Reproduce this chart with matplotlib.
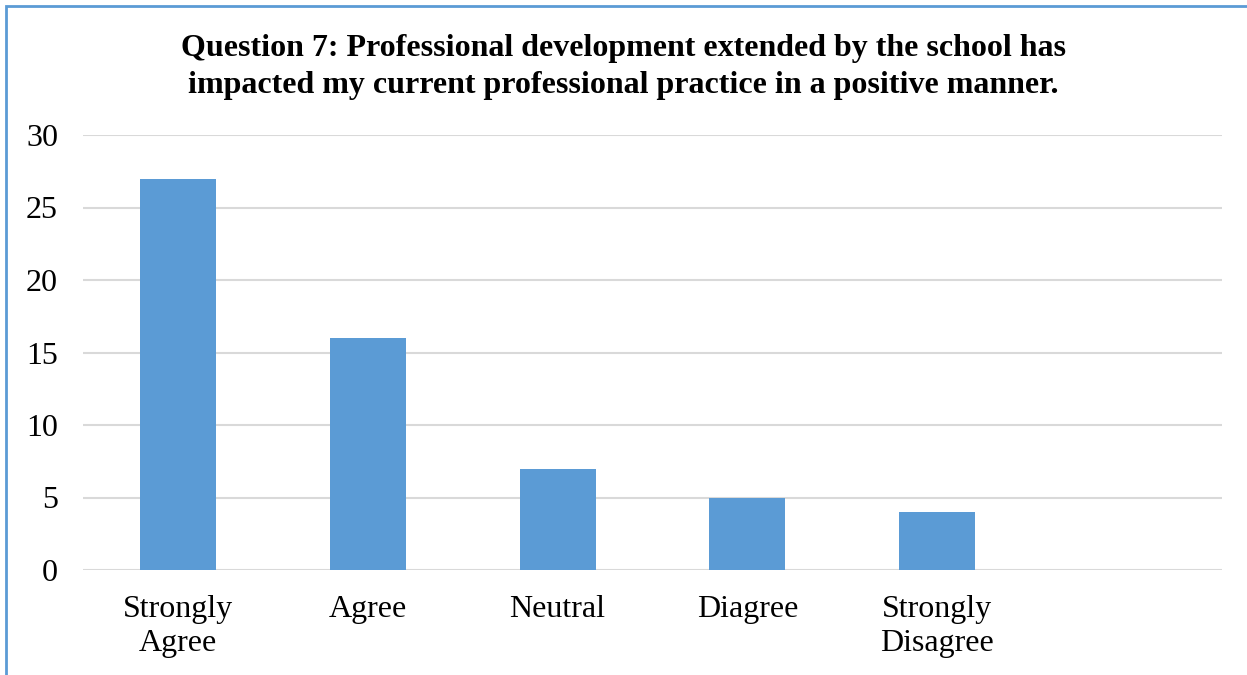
import numpy as np
import matplotlib.pyplot as plt
from matplotlib.patches import Rectangle

categories = ['Strongly\nAgree', 'Agree', 'Neutral', 'Diagree', 'Strongly\nDisagree']
counts = [27, 16, 7, 5, 4]

plt.rcParams['font.family'] = 'Liberation Serif'

fig = plt.figure(figsize=(12.47, 6.75), dpi=100)
ax = fig.add_axes([83/1247, 1-570/675, (1222-83)/1247, (570-135)/675])

x = np.arange(len(categories))
ax.bar(x, counts, width=0.4, color='#5B9BD5', zorder=3)

ax.set_xlim(-0.5, 5.5)
ax.set_ylim(0, 30)
ax.set_yticks(np.arange(0, 31, 5))
ax.set_xticks(x)
ax.set_xticklabels(categories, fontsize=23, linespacing=1.25)
ax.tick_params(axis='y', labelsize=23, length=0, pad=18)
ax.tick_params(axis='x', length=0, pad=18)
ax.grid(axis='y', color='#D9D9D9', linewidth=1.5, zorder=0)
for s in ax.spines.values():
    s.set_visible(False)

fig.text(0.5, 1-67/675, 'Question 7: Professional development extended by the school has\nimpacted my current professional practice in a positive manner.',
         ha='center', va='center', fontsize=23, fontweight='bold', linespacing=1.38)

# frame around the chart
fig.patches.append(Rectangle((6/1247, -0.1), 1.2, 1-6/675+0.1, transform=fig.transFigure,
                             fill=False, edgecolor='#5B9BD5', linewidth=2))

fig.savefig('out.png', dpi=100)
